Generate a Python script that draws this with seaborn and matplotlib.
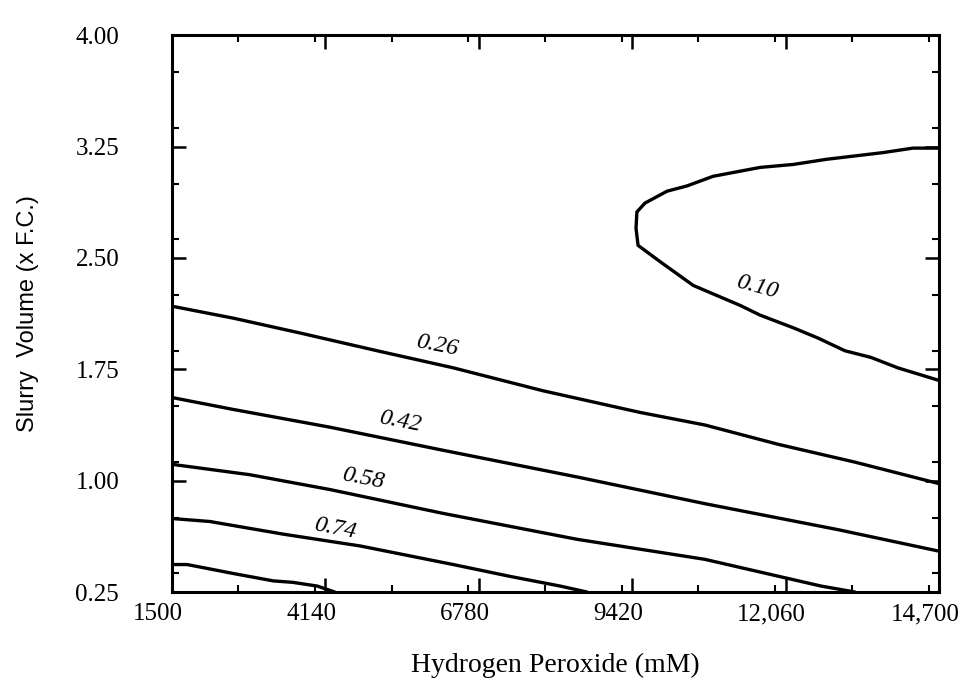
import numpy as np
import pandas as pd
import matplotlib
matplotlib.use("Agg")
import matplotlib.pyplot as plt
from matplotlib.ticker import MultipleLocator
from matplotlib.transforms import ScaledTranslation
import seaborn as sns

# contour lines (x = H2O2 mM, y = slurry volume x F.C.)
c010_x = [14700, 14250, 13740, 12770, 12190, 11620, 10810, 10360, 10020, 9640, 9500, 9485, 9520,
          9900, 10470, 11280, 11620, 12190, 12620, 13080, 13530, 13990, 14700]
c010_y = [3.24, 3.24, 3.21, 3.165, 3.13, 3.11, 3.05, 2.985, 2.95, 2.87, 2.81, 2.70, 2.585,
          2.475, 2.315, 2.18, 2.115, 2.03, 1.96, 1.875, 1.83, 1.76, 1.675]

c026_x = [1500, 2550, 3700, 5030, 6340, 7890, 9550, 10670, 11930, 13250, 14700]
c026_y = [2.175, 2.095, 1.995, 1.875, 1.76, 1.605, 1.46, 1.375, 1.245, 1.125, 0.98]

c042_x = [1500, 2550, 4220, 6160, 8470, 10670, 12960, 14700]
c042_y = [1.56, 1.48, 1.36, 1.205, 1.025, 0.845, 0.67, 0.525]

c058_x = [1500, 2840, 4220, 6160, 8470, 10670, 12670, 13250]
c058_y = [1.11, 1.04, 0.94, 0.78, 0.605, 0.47, 0.29, 0.25]

c074_x = [1500, 2150, 3410, 4740, 6340, 7320, 8180, 8640]
c074_y = [0.745, 0.725, 0.64, 0.56, 0.435, 0.355, 0.29, 0.25]

c090_x = [1500, 1760, 2550, 3240, 3580, 4000, 4300]
c090_y = [0.435, 0.435, 0.375, 0.325, 0.315, 0.29, 0.25]

levels = ["0.10", "0.26", "0.42", "0.58", "0.74", "0.90"]
xs = [c010_x, c026_x, c042_x, c058_x, c074_x, c090_x]
ys = [c010_y, c026_y, c042_y, c058_y, c074_y, c090_y]

# label text and where it sits
lab_text = ["0.10", "0.26", "0.42", "0.58", "0.74"]
lab_x = [11570, 6060, 5420, 4790, 4300]
lab_y = [2.30, 1.91, 1.395, 1.012, 0.68]
lab_rot = [-15, -11, -11, -11, -11]

xticks = [1500, 4140, 6780, 9420, 12060, 14700]
xticklabels = ["1500", "4140", "6780", "9420", "12,060", "14,700"]
yticks = [0.25, 1.00, 1.75, 2.50, 3.25, 4.00]

df = pd.concat([pd.DataFrame({"x": x, "y": y, "level": lv, "order": np.arange(len(x))})
                for x, y, lv in zip(xs, ys, levels)], ignore_index=True)

sns.set_theme(style="ticks")
plt.rcParams["font.family"] = ["Liberation Serif", "DejaVu Serif"]

fig = plt.figure(figsize=(9.68, 6.92), dpi=100)
ax = fig.add_axes([0.1777, 0.1445, 0.7924, 0.8045])

sns.lineplot(data=df, x="x", y="y", units="level", estimator=None, sort=False,
             color="black", linewidth=2.4, ax=ax, legend=False)

for t, lx, ly, r in zip(lab_text, lab_x, lab_y, lab_rot):
    ax.text(lx, ly, t, fontsize=17.5, style="italic", rotation=r,
            ha="center", va="center", color="black")

ax.set_xlim(1500, 14700)
ax.set_ylim(0.25, 4.00)
ax.set_xticks(xticks)
ax.set_xticklabels(xticklabels)
ax.set_yticks(yticks)
ax.set_yticklabels([f"{v:.2f}" for v in yticks])
ax.xaxis.set_minor_locator(MultipleLocator(1320))
ax.yaxis.set_minor_locator(MultipleLocator(0.375))

for s in ax.spines.values():
    s.set_linewidth(2.2)
    s.set_color("black")
ax.tick_params(which="both", direction="in", top=True, right=True, color="black")
ax.tick_params(which="major", length=10, width=1.8, labelsize=18, labelcolor="black")
ax.tick_params(which="minor", length=5, width=1.5)
ax.tick_params(axis="y", which="major", pad=38)
ax.tick_params(axis="x", which="major", pad=8)

# the printed x tick labels sit a little left of their ticks
shift = ScaledTranslation(-14 / 100, 0, fig.dpi_scale_trans)
for lab in ax.get_xticklabels():
    lab.set_transform(lab.get_transform() + shift)

ax.set_xlabel("Hydrogen Peroxide (mM)", fontsize=20, color="black", labelpad=20)
ax.set_ylabel("Slurry  Volume (x F.C.)", fontsize=17, color="black",
              family=["Liberation Sans", "DejaVu Sans"], labelpad=26)

fig.savefig("out.png", dpi=100, facecolor="white")
